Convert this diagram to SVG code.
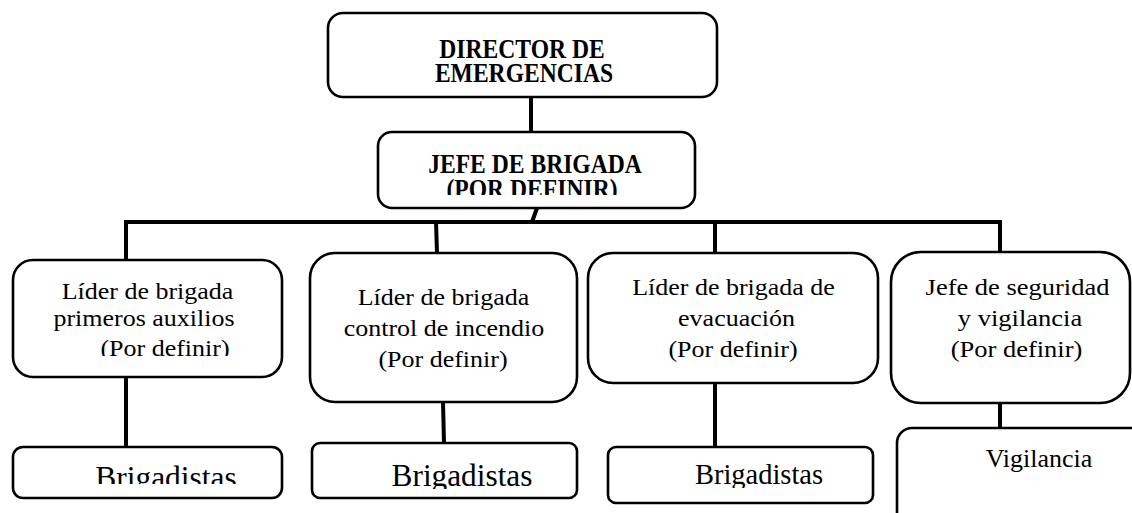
<svg xmlns="http://www.w3.org/2000/svg" width="1132" height="513" viewBox="0 0 1132 513">
<style>
.box{fill:#fff;stroke:#000;stroke-width:2.6}
.tb{font-family:"Liberation Serif","Times New Roman",serif;font-weight:bold;fill:#000;text-anchor:middle}
.t{font-family:"Liberation Serif","Times New Roman",serif;fill:#000;text-anchor:middle}
.c{stroke:#000;stroke-width:4;fill:none}
</style>
<defs>
<clipPath id="clipJefe"><rect x="0" y="0" width="1132" height="195"/></clipPath>
<clipPath id="clipB1L3"><rect x="0" y="0" width="1132" height="356"/></clipPath>
<clipPath id="clipBr1"><rect x="0" y="0" width="1132" height="484"/></clipPath>
<clipPath id="clipBr2"><rect x="0" y="0" width="1132" height="489"/></clipPath>
<clipPath id="clipBr3"><rect x="0" y="0" width="1132" height="488"/></clipPath>
</defs>
<rect width="1132" height="513" fill="#fff"/>
<g id="connectors">
<line class="c" x1="531" y1="97" x2="531" y2="132"/>
<line class="c" x1="537" y1="208" x2="532" y2="222"/>
<line class="c" x1="124" y1="222" x2="1002" y2="222" stroke-width="4.5"/>
<line class="c" x1="126" y1="222" x2="126" y2="260" stroke-width="3.5"/>
<line class="c" x1="436" y1="222" x2="437" y2="253" stroke-width="3.5"/>
<line class="c" x1="715" y1="222" x2="715" y2="253" stroke-width="3.5"/>
<line class="c" x1="1000" y1="222" x2="1000" y2="252" stroke-width="3.5"/>
<line class="c" x1="126" y1="377" x2="126" y2="447" stroke-width="3.5"/>
<line class="c" x1="443" y1="402" x2="444" y2="443" stroke-width="3.5"/>
<line class="c" x1="715" y1="383" x2="715" y2="447" stroke-width="3.5"/>
<line class="c" x1="1000" y1="403" x2="1000" y2="428" stroke-width="3.5"/>
</g>
<g id="director">
<rect class="box" x="328" y="13" width="389" height="84" rx="15"/>
<text class="tb" font-size="23.6" transform="translate(522,58) scale(1,1.18)">DIRECTOR DE</text>
<text class="tb" font-size="23.6" transform="translate(524,82) scale(1,1.18)">EMERGENCIAS</text>
</g>
<g id="jefe">
<rect class="box" x="378" y="132" width="317" height="76" rx="14"/>
<text class="tb" font-size="23.6" transform="translate(535,173) scale(1,1.15)">JEFE DE BRIGADA</text>
<g clip-path="url(#clipJefe)">
<text class="tb" font-size="23.6" transform="translate(532,198) scale(1,1.15)">(POR DEFINIR)</text>
</g>
</g>
<g id="lider-primeros-auxilios">
<rect class="box" x="13" y="260" width="269" height="117" rx="20"/>
<text class="t" font-size="26" transform="translate(147.5,299) scale(1,0.85)">Líder de brigada</text>
<text class="t" font-size="26" transform="translate(144,326) scale(1,0.85)">primeros auxilios</text>
<g clip-path="url(#clipB1L3)">
<text class="t" font-size="26" transform="translate(165,356) scale(1,0.85)">(Por definir)</text>
</g>
</g>
<g id="lider-control-incendio">
<rect class="box" x="310" y="253" width="267" height="149" rx="25"/>
<text class="t" font-size="26" transform="translate(443.5,305) scale(1,0.85)">Líder de brigada</text>
<text class="t" font-size="26" transform="translate(444,336) scale(1,0.85)">control de incendio</text>
<text class="t" font-size="26" transform="translate(443,367) scale(1,0.85)">(Por definir)</text>
</g>
<g id="lider-evacuacion">
<rect class="box" x="588" y="253" width="290" height="130" rx="25"/>
<text class="t" font-size="26" transform="translate(733.5,295) scale(1,0.85)">Líder de brigada de</text>
<text class="t" font-size="26" transform="translate(736.5,326) scale(1,0.85)">evacuación</text>
<text class="t" font-size="26" transform="translate(733,357) scale(1,0.85)">(Por definir)</text>
</g>
<g id="jefe-seguridad">
<rect class="box" x="891" y="252" width="239" height="151" rx="30"/>
<text class="t" font-size="26.5" transform="translate(1017.5,295) scale(1,0.85)">Jefe de seguridad</text>
<text class="t" font-size="26.5" transform="translate(1020,326) scale(1,0.85)">y vigilancia</text>
<text class="t" font-size="26.5" transform="translate(1016.5,357) scale(1,0.85)">(Por definir)</text>
</g>
<g id="brigadistas-1">
<rect class="box" x="13" y="447" width="269" height="51" rx="10"/>
<g clip-path="url(#clipBr1)">
<text class="t" font-size="31.5" x="166" y="488">Brigadistas</text>
</g>
</g>
<g id="brigadistas-2">
<rect class="box" x="312" y="443" width="265" height="55" rx="8"/>
<g clip-path="url(#clipBr2)">
<text class="t" font-size="31.3" x="462" y="486">Brigadistas</text>
</g>
</g>
<g id="brigadistas-3">
<rect class="box" x="608" y="447" width="265" height="56" rx="8"/>
<g clip-path="url(#clipBr3)">
<text class="t" font-size="28.5" x="759" y="484">Brigadistas</text>
</g>
</g>
<g id="vigilancia">
<rect class="box" x="897" y="428" width="260" height="110" rx="15"/>
<text class="t" font-size="26" x="1039" y="467">Vigilancia</text>
</g>
</svg>
